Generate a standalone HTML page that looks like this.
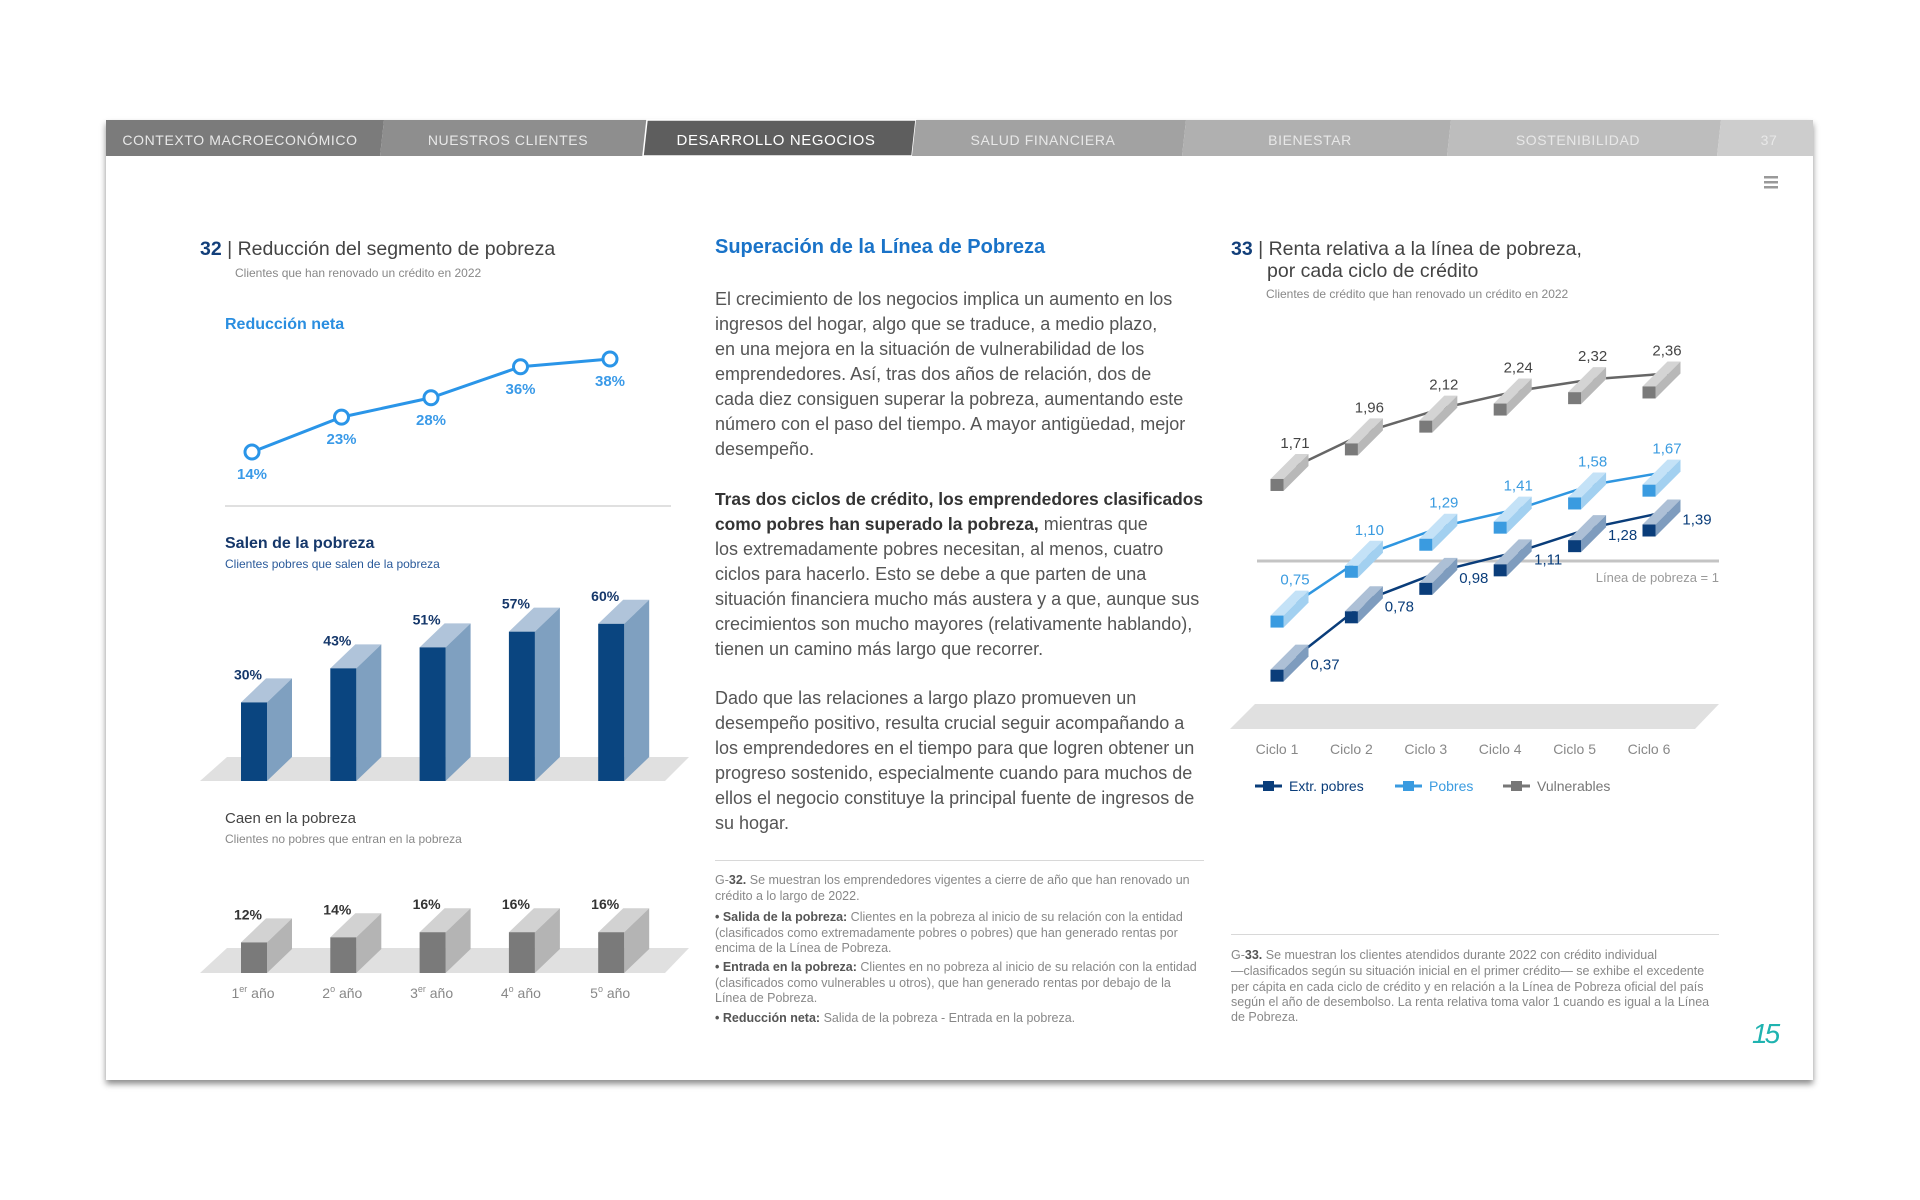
<!DOCTYPE html>
<html><head><meta charset="utf-8">
<style>
body{margin:0;width:1920px;height:1200px;background:#fff;position:relative;overflow:hidden;font-family:"Liberation Sans",sans-serif;}
.card{position:absolute;left:106px;top:120px;width:1707px;height:960px;background:#fff;box-shadow:0 4px 6px rgba(0,0,0,0.45);}
.t{position:absolute;white-space:nowrap;}
.body{font-size:18px;color:#555;left:715px;}
.fn{font-size:12.5px;color:#888;white-space:nowrap;position:absolute;}
.fn b{color:#555;font-weight:bold;}
</style></head><body>
<div class="card"></div>
<svg width="1920" height="1200" style="position:absolute;left:0;top:0">
<polygon points="106,120 384,120 380,156 106,156" fill="#7b7b7b"/>
<polygon points="384,120 647,120 643,156 380,156" fill="#8e8e8e"/>
<polygon points="647,120 916,120 912,156 643,156" fill="#5e5e5e" stroke="#fff" stroke-width="1.5"/>
<polygon points="916,120 1186,120 1182,156 912,156" fill="#a2a2a2"/>
<polygon points="1186,120 1451,120 1447,156 1182,156" fill="#b0b0b0"/>
<polygon points="1451,120 1721,120 1717,156 1447,156" fill="#bdbdbd"/>
<polygon points="1721,120 1813,120 1813,156 1717,156" fill="#cdcdcd"/>
<g font-family="Liberation Sans" font-size="14" fill="#e8e8e8" text-anchor="middle" letter-spacing="0.6">
<text x="240" y="145">CONTEXTO MACROECONÓMICO</text>
<text x="508" y="145">NUESTROS CLIENTES</text>
<text x="776" y="145" fill="#fff" font-size="15">DESARROLLO NEGOCIOS</text>
<text x="1043" y="145">SALUD FINANCIERA</text>
<text x="1310" y="145">BIENESTAR</text>
<text x="1578" y="145">SOSTENIBILIDAD</text>
<text x="1769" y="145">37</text>
</g>
<g fill="#999"><rect x="1764" y="176" width="14" height="2.5"/><rect x="1764" y="181" width="14" height="2.5"/><rect x="1764" y="186" width="14" height="2.5"/></g>
</svg>

<div class="t" style="left:200px;top:238px;font-size:19.5px;color:#444"><span style="color:#123f7a;font-weight:bold">32</span> | Reducción del segmento de pobreza</div>
<div class="t" style="left:235px;top:266px;font-size:12px;color:#888">Clientes que han renovado un crédito en 2022</div>
<div class="t" style="left:225px;top:316px;font-size:16px;color:#2a8ee0;font-weight:bold">Reducción neta</div>
<div class="t" style="left:225px;top:535px;font-size:16px;color:#15376a;font-weight:bold">Salen de la pobreza</div>
<div class="t" style="left:225px;top:557px;font-size:12px;color:#2a5a9a">Clientes pobres que salen de la pobreza</div>
<div class="t" style="left:225px;top:810px;font-size:15px;color:#444">Caen en la pobreza</div>
<div class="t" style="left:225px;top:832px;font-size:12px;color:#888">Clientes no pobres que entran en la pobreza</div>

<div class="t" style="left:715px;top:236px;font-size:20px;color:#1a73c8;font-weight:bold">Superación de la Línea de Pobreza</div>
<div>
<div class="t body" style="top:289px">El crecimiento de los negocios implica un aumento en los</div>
<div class="t body" style="top:314px">ingresos del hogar, algo que se traduce, a medio plazo,</div>
<div class="t body" style="top:339px">en una mejora en la situación de vulnerabilidad de los</div>
<div class="t body" style="top:364px">emprendedores. Así, tras dos años de relación, dos de</div>
<div class="t body" style="top:389px">cada diez consiguen superar la pobreza, aumentando este</div>
<div class="t body" style="top:414px">número con el paso del tiempo. A mayor antigüedad, mejor</div>
<div class="t body" style="top:439px">desempeño.</div>
<div class="t body" style="top:489px;color:#333;font-weight:bold;font-size:17.4px">Tras dos ciclos de crédito, los emprendedores clasificados</div>
<div class="t body" style="top:514px"><b style="color:#333;font-size:17.4px">como pobres han superado la pobreza,</b> mientras que</div>
<div class="t body" style="top:539px">los extremadamente pobres necesitan, al menos, cuatro</div>
<div class="t body" style="top:564px">ciclos para hacerlo. Esto se debe a que parten de una</div>
<div class="t body" style="top:589px">situación financiera mucho más austera y a que, aunque sus</div>
<div class="t body" style="top:614px">crecimientos son mucho mayores (relativamente hablando),</div>
<div class="t body" style="top:639px">tienen un camino más largo que recorrer.</div>
<div class="t body" style="top:688px">Dado que las relaciones a largo plazo promueven un</div>
<div class="t body" style="top:713px">desempeño positivo, resulta crucial seguir acompañando a</div>
<div class="t body" style="top:738px">los emprendedores en el tiempo para que logren obtener un</div>
<div class="t body" style="top:763px">progreso sostenido, especialmente cuando para muchos de</div>
<div class="t body" style="top:788px">ellos el negocio constituye la principal fuente de ingresos de</div>
<div class="t body" style="top:813px">su hogar.</div>
</div>
<div style="position:absolute;left:715px;top:860px;width:489px;height:1px;background:#d8d8d8"></div>
<div>
<div class="fn" style="left:715px;top:873px">G-<b>32.</b> Se muestran los emprendedores vigentes a cierre de año que han renovado un</div>
<div class="fn" style="left:715px;top:889px">crédito a lo largo de 2022.</div>
<div class="fn" style="left:715px;top:910px"><b>• Salida de la pobreza:</b> Clientes en la pobreza al inicio de su relación con la entidad</div>
<div class="fn" style="left:715px;top:926px">(clasificados como extremadamente pobres o pobres) que han generado rentas por</div>
<div class="fn" style="left:715px;top:941px">encima de la Línea de Pobreza.</div>
<div class="fn" style="left:715px;top:960px"><b>• Entrada en la pobreza:</b> Clientes en no pobreza al inicio de su relación con la entidad</div>
<div class="fn" style="left:715px;top:976px">(clasificados como vulnerables u otros), que han generado rentas por debajo de la</div>
<div class="fn" style="left:715px;top:991px">Línea de Pobreza.</div>
<div class="fn" style="left:715px;top:1011px"><b>• Reducción neta:</b> Salida de la pobreza - Entrada en la pobreza.</div>
</div>

<div class="t" style="left:1231px;top:238px;font-size:19.5px;color:#444;line-height:22px"><span style="color:#123f7a;font-weight:bold">33</span> | Renta relativa a la línea de pobreza,<br><span style="padding-left:36px">por cada ciclo de crédito</span></div>
<div class="t" style="left:1266px;top:287px;font-size:12px;color:#888">Clientes de crédito que han renovado un crédito en 2022</div>
<div style="position:absolute;left:1231px;top:934px;width:488px;height:1px;background:#d8d8d8"></div>
<div>
<div class="fn" style="left:1231px;top:948px">G-<b>33.</b> Se muestran los clientes atendidos durante 2022 con crédito individual</div>
<div class="fn" style="left:1231px;top:964px">—clasificados según su situación inicial en el primer crédito— se exhibe el excedente</div>
<div class="fn" style="left:1231px;top:980px">per cápita en cada ciclo de crédito y en relación a la Línea de Pobreza oficial del país</div>
<div class="fn" style="left:1231px;top:995px">según el año de desembolso. La renta relativa toma valor 1 cuando es igual a la Línea</div>
<div class="fn" style="left:1231px;top:1010px">de Pobreza.</div>
</div>
<div class="t" style="left:1752px;top:1018px;font-size:28px;color:#1fb3b0;font-style:italic;letter-spacing:-3px">15</div>

<svg id="charts" width="1920" height="1200" style="position:absolute;left:0;top:0" font-family="Liberation Sans"></svg>
<script>
const netYears = [0,1,2,3,4];
const netValues = [14,23,28,36,38];
const netLabels = ["14%","23%","28%","36%","38%"];
const salenValues = [30,43,51,57,60];
const salenLabels = ["30%","43%","51%","57%","60%"];
const caenValues = [12,14,16,16,16];
const caenLabels = ["12%","14%","16%","16%","16%"];
const yearLabels = [["1","er"],["2","o"],["3","er"],["4","o"],["5","o"]];
const cycles = ["Ciclo 1","Ciclo 2","Ciclo 3","Ciclo 4","Ciclo 5","Ciclo 6"];
const extrValues = [0.37,0.78,0.98,1.11,1.28,1.39];
const pobresValues = [0.75,1.10,1.29,1.41,1.58,1.67];
const vulnValues = [1.71,1.96,2.12,2.24,2.32,2.36];
const povertyLine = 1;

const NS="http://www.w3.org/2000/svg";
const svg=document.getElementById('charts');
function mk(tag,attrs,parent){const e=document.createElementNS(NS,tag);for(const k in attrs)e.setAttribute(k,attrs[k]);(parent||svg).appendChild(e);return e;}
function fmt(v){return v.toFixed(2).replace('.',',');}

const nx=i=>252+i*89.5, ny=v=>506.25-3.875*v;
const g1=mk('g',{});


mk('polyline',{points:netValues.map((v,i)=>nx(netYears[i])+','+ny(v)).join(' '),fill:'none',stroke:'#2a95e8','stroke-width':3},g1);
netValues.forEach((v,i)=>{
  const c=mk('circle',{cx:nx(netYears[i]),cy:ny(v),r:7,fill:'#fff',stroke:'#2a95e8','stroke-width':3},g1);
  
  
  const t=mk('text',{x:nx(netYears[i]),y:ny(v)+27,'text-anchor':'middle','font-size':15,'font-weight':'bold',fill:'#3a9ae8'},g1);
  t.textContent=netLabels[i];
  
  
});
mk('line',{x1:225,y1:506,x2:671,y2:506,stroke:'#e0e0e0','stroke-width':2},g1);

function bars(values,labels,base,scale,col,name,floorTop,lblColor){
  const g=mk('g',{});
  
  
  const f=mk('polygon',{points:`227,${floorTop} 689,${floorTop} 665,${base} 200,${base}`,fill:'#e0e0e0'},g);
  
  values.forEach((v,i)=>{
    const x=241+i*89.3,w=26,dx=25,dy=24,top=base-v*scale;
    const b=mk('g',{},g);
    
    
    mk('polygon',{points:`${x},${top} ${x+dx},${top-dy} ${x+w+dx},${top-dy} ${x+w},${top}`,fill:col[1]},b);
    mk('polygon',{points:`${x+w},${top} ${x+w+dx},${top-dy} ${x+w+dx},${base-dy} ${x+w},${base}`,fill:col[2]},b);
    mk('rect',{x:x,y:top,width:w,height:v*scale,fill:col[0]},b);
    const t=mk('text',{x:x+7,y:top-23,'text-anchor':'middle','font-size':14,'font-weight':'bold',fill:lblColor},g);
    t.textContent=labels[i];
    
    
  });
}
bars(salenValues,salenLabels,781,2.62,['#0a4580','#b0c4da','#7fa0c0'],'salen-bars',757,'#15376a');
bars(caenValues,caenLabels,973,2.55,['#7a7a7a','#d2d2d2','#b4b4b4'],'caen-bars',948,'#333');
yearLabels.forEach((l,i)=>{
  const t=mk('text',{x:253+i*89.3,y:998,'text-anchor':'middle','font-size':14,fill:'#888'});
  t.innerHTML=l[0]+'<tspan font-size="9" dy="-6">'+l[1]+'</tspan><tspan dy="6"> año</tspan>';
  
  
});

const cx=i=>1277+i*74.4, cy=v=>728.3-142.3*v;
const g3=mk('g',{});


const fl=mk('polygon',{points:'1255,704 1719,704 1695,729 1230,729',fill:'#e0e0e0'},g3);

const pl=mk('line',{x1:1257,y1:cy(povertyLine)-25,x2:1719,y2:cy(povertyLine)-25,stroke:'#c4c4c4','stroke-width':3},g3);

const plt=mk('text',{x:1719,y:582,'text-anchor':'end','font-size':13,fill:'#999'},g3);
plt.textContent='Línea de pobreza = 1';

function series(vals,cols,lineCol,name,lblCol,below){
  const g=mk('g',{},g3);
  
  
  mk('polyline',{points:vals.map((v,i)=>(cx(i)+19)+','+(cy(v)-19)).join(' '),fill:'none',stroke:lineCol,'stroke-width':2.5},g);
  vals.forEach((v,i)=>{
    const x=cx(i)-6.5,y=cy(v)-6,w=13,h=12,d=25;
    const b=mk('g',{},g);
    
    
    mk('polygon',{points:`${x},${y} ${x+d},${y-d} ${x+w+d},${y-d} ${x+w},${y}`,fill:cols[1]},b);
    mk('polygon',{points:`${x+w},${y} ${x+w+d},${y-d} ${x+w+d},${y+h-d} ${x+w},${y+h}`,fill:cols[2]},b);
    mk('rect',{x:x,y:y,width:w,height:h,fill:cols[0]},b);
    const t=mk('text',{x:cx(i)+(below?48:18),y:cy(v)+(below?-6:-37),'text-anchor':'middle','font-size':15,fill:lblCol},g);
    t.textContent=fmt(v);
    
    
  });
}
series(vulnValues,['#7a7a7a','#d4d4d4','#b8b8b8'],'#666','vulnerables-series','#444',false);
series(pobresValues,['#3a9be0','#c4e2f7','#a2d0f0'],'#2f96e0','pobres-series','#3a9be0',false);
series(extrValues,['#0a3d7a','#adc0d6','#7e9cbe'],'#0a3d7a','extr-pobres-series','#0a3d7a',true);
cycles.forEach((c,i)=>{
  const t=mk('text',{x:cx(i),y:754,'text-anchor':'middle','font-size':14,fill:'#888'},g3);
  t.textContent=c;
  
  
});
const legend=[['Extr. pobres','#0a3d7a',1255],['Pobres','#3a9be0',1395],['Vulnerables','#777',1503]];
legend.forEach(l=>{
  const g=mk('g',{},g3);
  
  
  mk('line',{x1:l[2],y1:786,x2:l[2]+27,y2:786,stroke:l[1],'stroke-width':3},g);
  mk('rect',{x:l[2]+8,y:781,width:11,height:10,fill:l[1]},g);
  const t=mk('text',{x:l[2]+34,y:791,'font-size':14,fill:l[1]},g);
  t.textContent=l[0];
});
</script>
</body></html>
